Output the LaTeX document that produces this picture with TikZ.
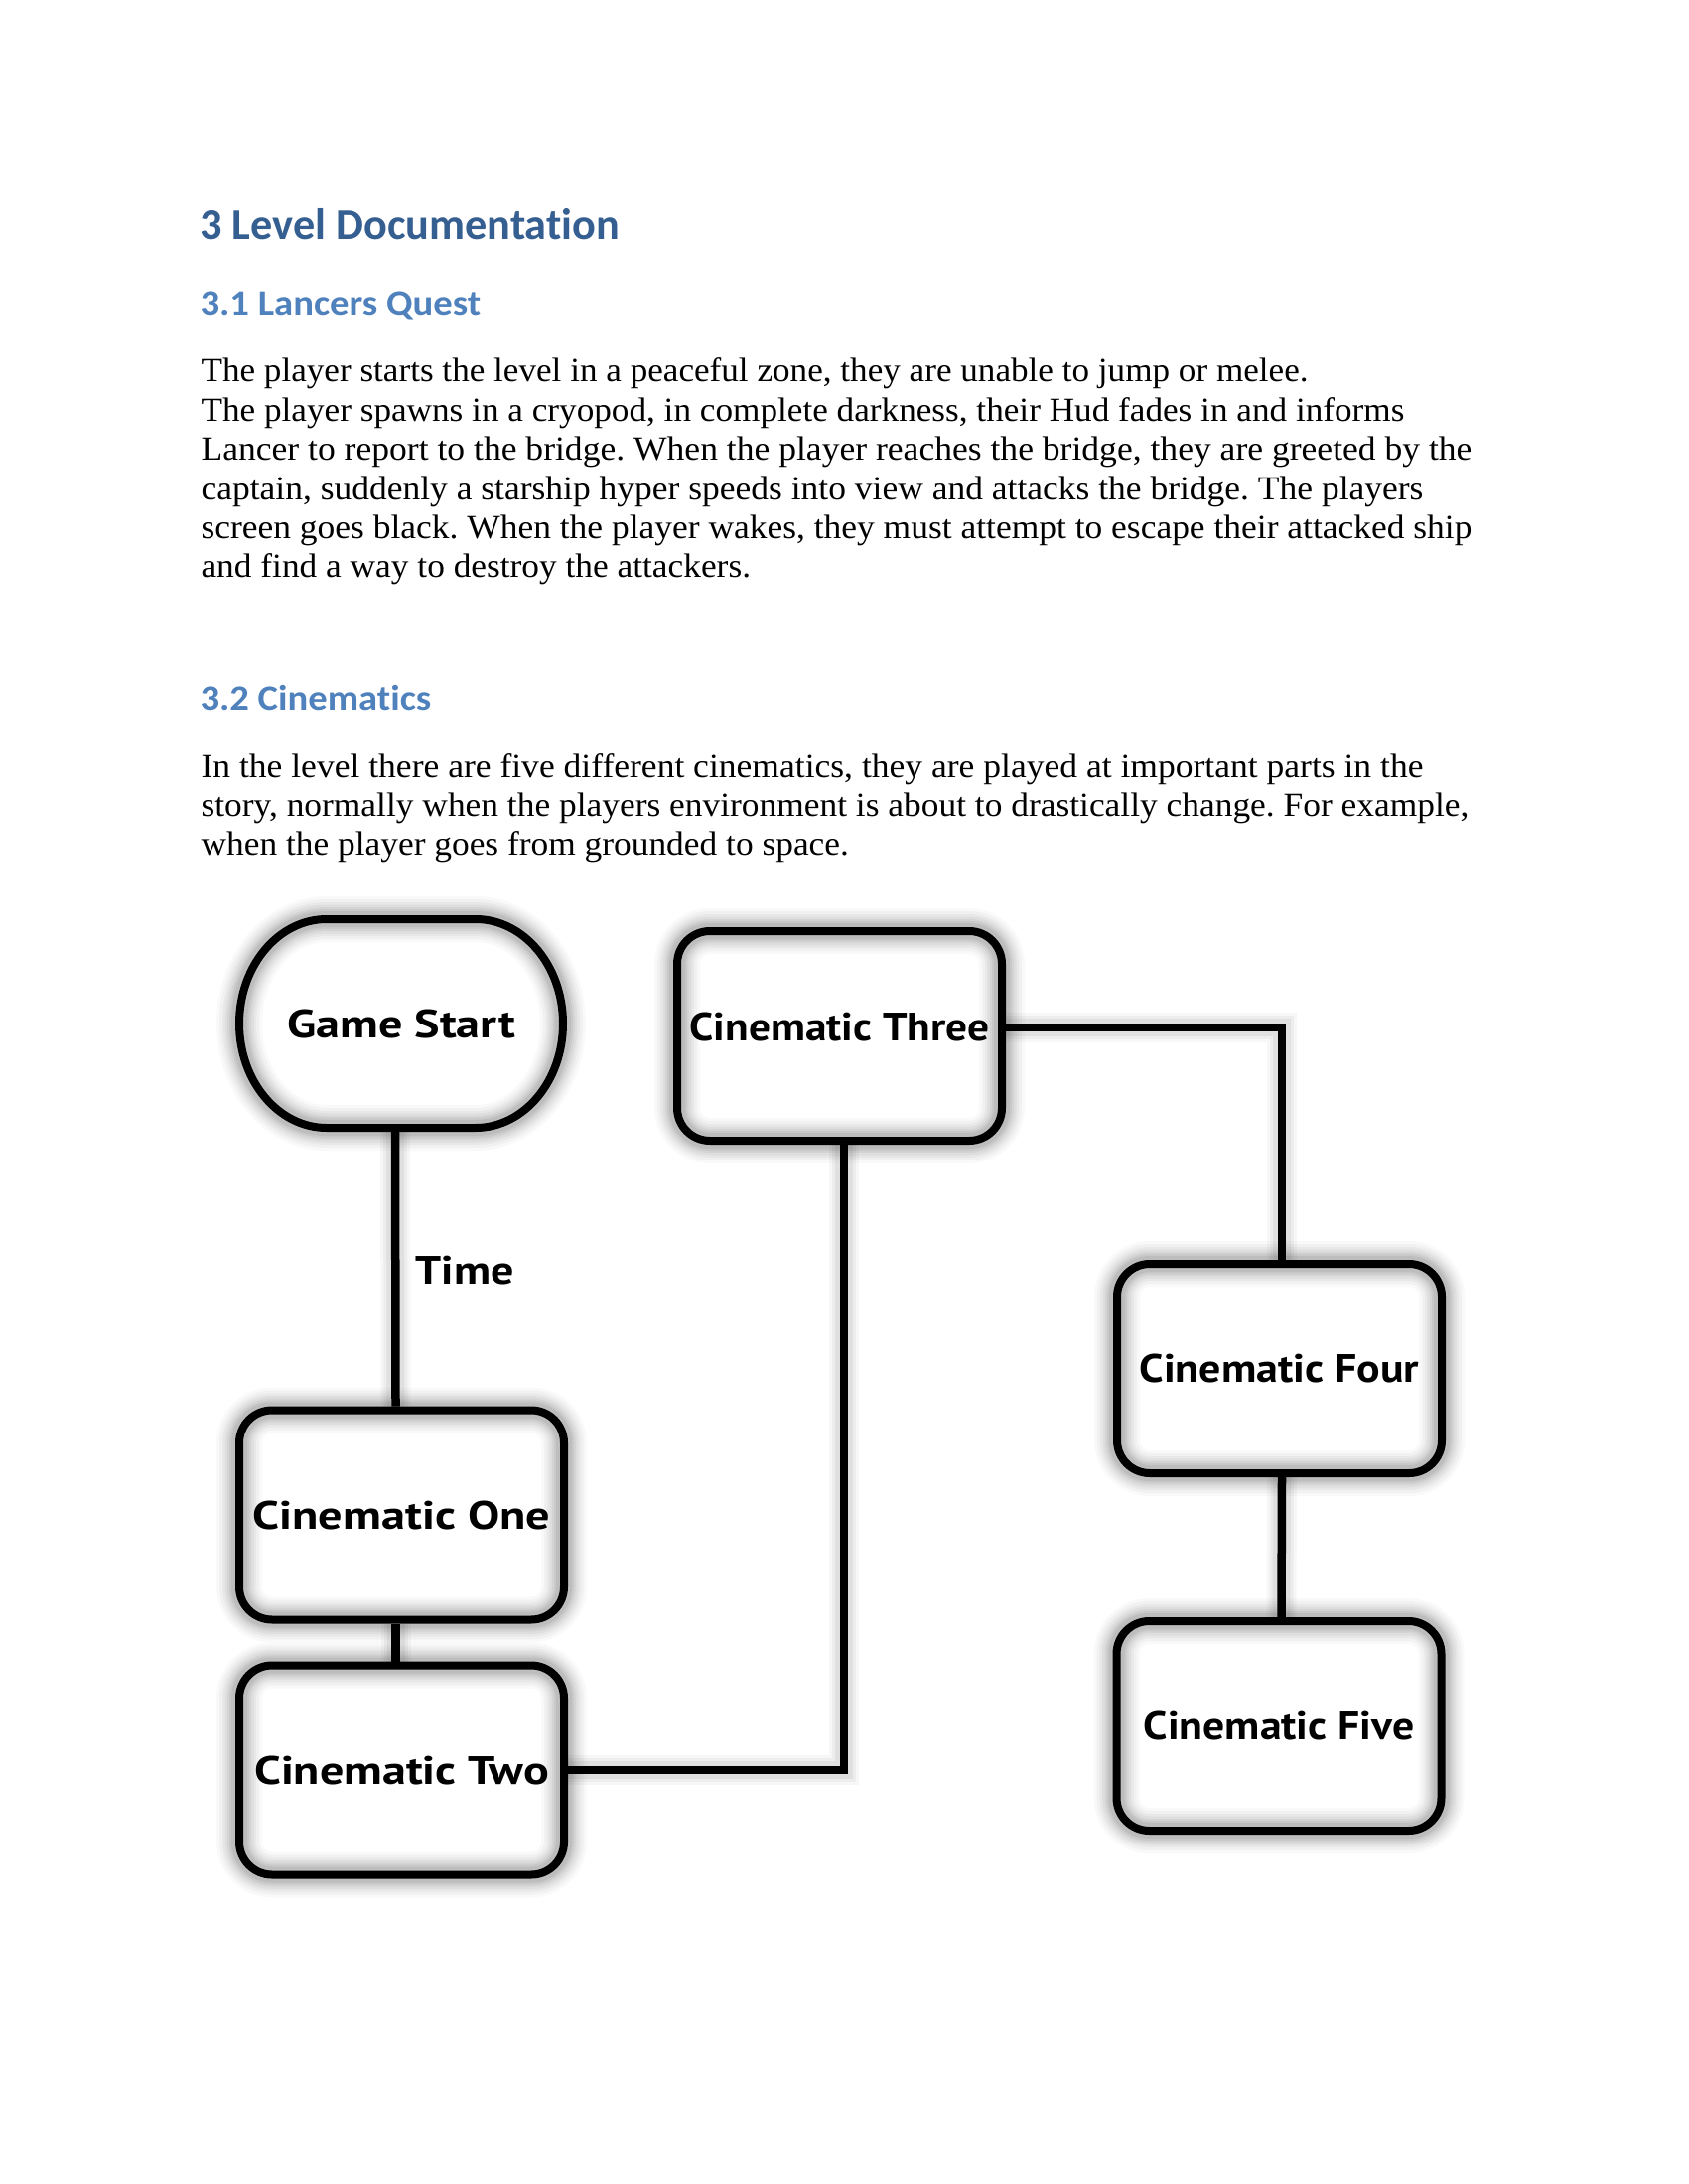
\documentclass[tikz,border=0pt]{standalone}
\usepackage{fontspec}
\usepackage{graphicx}
\setmainfont{Liberation Serif}
\newfontfamily\headfont{Carlito}[Ligatures={NoCommon}]
\newfontfamily\boxfont{PT Sans}
\usetikzlibrary{backgrounds}
\definecolor{hone}{HTML}{365F91}
\definecolor{htwo}{HTML}{4F81BD}
\def\px{0.005in}
\frenchspacing
\newsavebox\fitbox
\newcommand\fitto[2]{\sbox\fitbox{#2}\pgfmathsetmacro\fitsx{(#1*0.36135)/(\the\wd\fitbox)}\scalebox{\fitsx}[1]{\usebox\fitbox}}
\tikzset{
  glow/.style={
    preaction={draw=black,draw opacity=0.025,line width=46*\px},
    preaction={draw=black,draw opacity=0.03,line width=40*\px},
    preaction={draw=black,draw opacity=0.035,line width=34*\px},
    preaction={draw=black,draw opacity=0.04,line width=29*\px},
    preaction={draw=black,draw opacity=0.045,line width=24*\px},
    preaction={draw=black,draw opacity=0.05,line width=20*\px},
    preaction={draw=black,draw opacity=0.06,line width=16*\px}},
  boxlabel/.style={font=\boxfont\bfseries\fontsize{14.45}{17}\selectfont, text height=28*\px, text depth=0pt, inner sep=0pt},
  cbox/.style={boxlabel, rectangle, rounded corners=33*\px, minimum width=327*\px, minimum height=211*\px,
    preaction={fill=white}, glow, draw=black, line width=8*\px},
  gsframe/.style={boxlabel, rectangle, minimum width=326*\px, minimum height=210*\px, outer sep=0pt},
  conn/.style={draw=black, line width=8.5*\px,
    preaction={draw=black,draw opacity=0.03,line width=30*\px},
    preaction={draw=black,draw opacity=0.04,line width=24*\px},
    preaction={draw=black,draw opacity=0.05,line width=18*\px}},
  bodyline/.style={anchor=base west, inner sep=0pt, font=\fontsize{12.3}{14}\selectfont},
  hbig/.style={anchor=base west, inner sep=0pt, text=hone, font=\headfont\bfseries\fontsize{16}{19}\selectfont},
  hsmall/.style={anchor=base west, inner sep=0pt, text=htwo, font=\headfont\bfseries\fontsize{13}{16}\selectfont},
  freelabel/.style={anchor=base west, inner sep=0pt, font=\boxfont\bfseries\fontsize{14.45}{17}\selectfont}
}
\begin{document}
\begin{tikzpicture}[x=0.005in, y=-0.005in, line join=miter]
\begin{scope}[on background layer]
\fill[white] (0,0) rectangle (1700,2200);
\end{scope}
\useasboundingbox (0,0) rectangle (1700,2200);

% headings and text
\node[hbig] (h1) at (201,242) {\fitto{423}{3 Level Documentation}};
\node[hsmall] (h2) at (201,318) {\fitto{283}{3.1 Lancers Quest}};
\node[bodyline] (p1a) at (202,385) {\fitto{1116}{The player starts the level in a peaceful zone, they are unable to jump or melee.}};
\node[bodyline] (p1b) at (202,424.4) {\fitto{1213}{The player spawns in a cryopod, in complete darkness, their Hud fades in and informs}};
\node[bodyline] (p1c) at (202,463.8) {\fitto{1281}{Lancer to report to the bridge. When the player reaches the bridge, they are greeted by the}};
\node[bodyline] (p1d) at (202,503.2) {\fitto{1232}{captain, suddenly a starship hyper speeds into view and attacks the bridge. The players}};
\node[bodyline] (p1e) at (202,542.6) {\fitto{1281}{screen goes black. When the player wakes, they must attempt to escape their attacked ship}};
\node[bodyline] (p1f) at (202,582) {\fitto{554}{and find a way to destroy the attackers.}};
\node[hsmall] (h3) at (201,716) {\fitto{233}{3.2 Cinematics}};
\node[bodyline] (p2a) at (202,783) {\fitto{1232}{In the level there are five different cinematics, they are played at important parts in the}};
\node[bodyline] (p2b) at (202,822.3) {\fitto{1278}{story, normally when the players environment is about to drastically change. For example,}};
\node[bodyline] (p2c) at (202,861.6) {\fitto{653}{when the player goes from grounded to space.}};

% game start (elliptic-cornered)
\node[gsframe] (gs) at (404,1031) {\fitto{230}{Game Start}};
\begin{scope}[on background layer]
\path[line join=round, preaction={fill=white}, glow, draw=black, line width=8*\px]
  ([xshift=88*\px]gs.north west) -- ([xshift=-88*\px]gs.north east)
  arc[start angle=90,end angle=0,x radius=88*\px,y radius=105*\px]
  arc[start angle=0,end angle=-90,x radius=88*\px,y radius=105*\px]
  -- ([xshift=88*\px]gs.south west)
  arc[start angle=270,end angle=180,x radius=88*\px,y radius=105*\px]
  arc[start angle=180,end angle=90,x radius=88*\px,y radius=105*\px]
  -- cycle;
\end{scope}

% boxes
\node[cbox] (c3) at (845.5,1043.5) {\raisebox{0.0475in}{\fitto{302}{Cinematic Three}}};
\node[cbox] (c1) at (404.5,1526) {\fitto{300}{Cinematic One}};
\node[cbox] (c2) at (404.5,1783) {\fitto{297}{Cinematic Two}};
\node[cbox] (c4) at (1288.5,1378.5) {\fitto{282}{Cinematic Four}};
\node[cbox] (c5) at (1288,1738.5) {\fitto{273}{Cinematic Five}};

\node[freelabel] (time) at (418,1293) {\fitto{99}{Time}};

% connectors
\draw[conn] ([xshift=-0.03in]gs.south) -- ([xshift=-0.03in]c1.north);
\draw[conn] ([xshift=-0.03in]c1.south) -- ([xshift=-0.03in]c2.north);
\draw[conn] (c2.east) -| ([xshift=0.0225in]c3.south);
\draw[conn] ([yshift=0.0425in]c3.east) -| ([xshift=0.0125in]c4.north);
\draw[conn] ([xshift=0.0125in]c4.south) -- ([xshift=0.0125in]c5.north);
\end{tikzpicture}
\end{document}
